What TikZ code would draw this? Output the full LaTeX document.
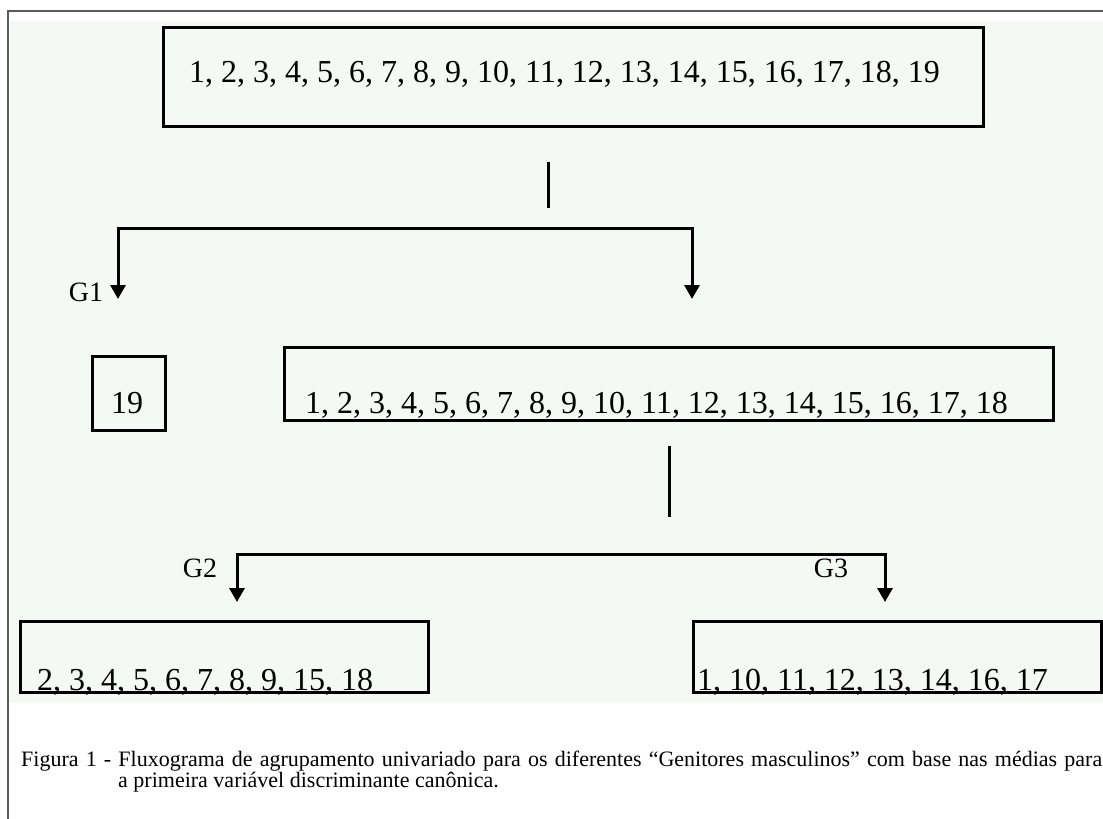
\documentclass[tikz,border=0pt]{standalone}
\usepackage{fontspec}
\setmainfont{Liberation Serif}
\usepackage{tikz}
\usetikzlibrary{arrows.meta,calc,positioning}
\definecolor{bgmint}{RGB}{245,249,246}
\definecolor{framegray}{RGB}{90,90,90}

\begin{document}
\begin{tikzpicture}[x=1pt,y=-1pt,
    box/.style={draw,line width=3pt,inner sep=0pt},
    num/.style={inner sep=0pt,anchor=base west,font=\fontsize{32}{38}\selectfont},
    glabel/.style={inner sep=0pt,font=\fontsize{28}{34}\selectfont},
    link/.style={line width=3pt},
    fork/.style={line width=3pt,{Triangle[width=15pt,length=14pt]}-{Triangle[width=15pt,length=14pt]}}]
    \useasboundingbox (0,0) rectangle (1103,819);
    \fill[bgmint] (10,21) rectangle (1103,703);
    \draw[framegray,line width=1.5pt] (8,819) -- (8,11) -- (1103,11);
    \node[box,minimum width=820pt,minimum height=99pt] (b0) at (573,76.5) {};
    \node[box,minimum width=73pt,minimum height=74pt] (b19) at (128.5,393) {};
    \node[box,minimum width=769pt,minimum height=73pt] (b1) at (668.5,383.5) {};
    \node[box,minimum width=408pt,minimum height=71pt] (b2) at (224,656.5) {};
    \node[box,minimum width=408pt,minimum height=71pt] (b3) at (897,656.5) {};
    \node[num] (t0) at (189,82) {1, 2, 3, 4, 5, 6, 7, 8, 9, 10, 11, 12, 13, 14, 15, 16, 17, 18, 19};
    \node[num,anchor=base] (t19) at (127,413) {19};
    \node[num] (t1) at (305,413) {1, 2, 3, 4, 5, 6, 7, 8, 9, 10, 11, 12, 13, 14, 15, 16, 17, 18};
    \node[num] (t2) at (37,690) {2, 3, 4, 5, 6, 7, 8, 9, 15, 18};
    \node[num] (t3) at (697,690) {1, 10, 11, 12, 13, 14, 16, 17};
    \coordinate (s0) at (548,162);
    \coordinate (e0) at (548,208);
    \coordinate (k0l) at (118,228);
    \coordinate (k0r) at (692,228);
    \coordinate (a19) at (118,299);
    \coordinate (a18) at (692,299);
    \coordinate (s1) at (669,446);
    \coordinate (e1) at (669,517);
    \coordinate (k1l) at (237,554);
    \coordinate (k1r) at (885,554);
    \coordinate (ag2) at (237,602);
    \coordinate (ag3) at (885,602);
    \draw[link] (s0) -- (e0);
    \draw[fork] (a19) -- (k0l) -- (k0r) -- (a18);
    \draw[link] (s1) -- (e1);
    \draw[fork] (ag2) -- (k1l) -- (k1r) -- (ag3);
    \node[glabel] (g1) at (86,292) {G1};
    \node[glabel] (g2) at (200,568) {G2};
    \node[glabel] (g3) at (831,568) {G3};
    \node[inner sep=0pt,anchor=base west,text width=1081pt,align=justify,
        font=\fontsize{22}{19}\selectfont] (cap) at (21,766)
        {\hangindent=97pt\hangafter=1 Figura 1 - Fluxograma de agrupamento univariado para os diferentes “Genitores masculinos” com base nas médias para\linebreak a primeira variável discriminante canônica.\par};
\end{tikzpicture}
\end{document}
